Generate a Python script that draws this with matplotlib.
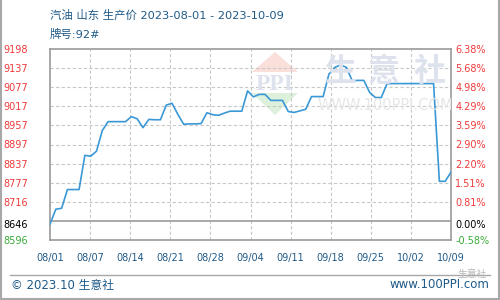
import numpy as np
import matplotlib
matplotlib.use("Agg")
import matplotlib.pyplot as plt
from matplotlib.patches import Polygon
from matplotlib.lines import Line2D

plt.rcParams['font.family'] = ['DejaVu Sans', 'Noto Sans CJK SC']

# ===============================
# DATA
# ===============================
# daily price, 08/01 .. 10/09 (day 0 .. 69)
price = [8646, 8693, 8696, 8755, 8755, 8755, 8863, 8860, 8876, 8941,
         8969, 8969, 8969, 8969, 8985, 8978, 8950, 8976, 8975, 8975,
         9021, 9027, 8992, 8961, 8962, 8962, 8963, 8997, 8991, 8989,
         8996, 9002, 9002, 9002, 9066, 9047, 9055, 9055, 9036, 9036,
         9036, 9001, 8998, 9003, 9008, 9048, 9048, 9048, 9119, 9140,
         9148, 9140, 9098, 9099, 9099, 9061, 9045, 9045, 9089, 9089,
         9089, 9089, 9089, 9089, 9089, 9089, 9089, 8781, 8781, 8810]
x_labels = ['08/01', '08/07', '08/14', '08/21', '08/28', '09/04',
            '09/11', '09/18', '09/25', '10/02', '10/09']
y_labels_left = ['8596', '8646', '8716', '8777', '8837', '8897',
                 '8957', '9017', '9077', '9137', '9198']
y_labels_right = ['-0.58%', '0.00%', '0.81%', '1.51%', '2.20%', '2.90%',
                  '3.59%', '4.29%', '4.98%', '5.68%', '6.38%']
y_min, y_base, y_max = 8596, 8646, 9198

title = '汽油 山东 生产价 2023-08-01 - 2023-10-09'
subtitle = '牌号:92#'

# ===============================
# FIGURE
# ===============================
W, H = 500, 300
fig = plt.figure(figsize=(5, 3), dpi=100)
fig.patch.set_facecolor('white')

def fx(px):
    return px / W

def fy(py):
    return 1 - py / H

ax = fig.add_axes([fx(50), fy(240), 401 / W, 191 / H])
days = np.arange(len(price))
ax.set_xlim(0, len(price) - 1)
ax.set_ylim(y_min, y_max)

step = (y_max - y_min) / 10
y_ticks = [y_min, y_base] + [y_min + k * step for k in range(2, 11)]
x_ticks = np.linspace(0, len(price) - 1, len(x_labels))

# watermark
wm = '#dde2ed'
fig.patches.append(Polygon([[fx(252), fy(72)], [fx(275), fy(52)], [fx(298), fy(72)]],
                           closed=True, transform=fig.transFigure, fc='#fadfdb', ec='none', zorder=0))
fig.patches.append(Polygon([[fx(252), fy(93)], [fx(298), fy(93)], [fx(275), fy(115)]],
                           closed=True, transform=fig.transFigure, fc='#dcf0dc', ec='none', zorder=0))
fig.text(fx(275), fy(84), 'PPI', color=wm, fontsize=17, fontweight='bold',
         ha='center', va='center', family='Liberation Serif')
for cx, ch in zip([340, 384, 430], '生意社'):
    fig.text(fx(cx), fy(72), ch, color=wm, fontsize=23, fontweight='bold',
             ha='center', va='center', family='Noto Sans CJK SC')
fig.text(fx(385), fy(106), 'WWW.100PPI.COM', color='#e6e6e6', fontsize=10.5,
         ha='center', va='center')

ax.set_facecolor('none')
ax.set_zorder(2)

# grid
grid_kw = dict(color='#c8c8c8', lw=0.8, linestyle=(0, (3, 2)), zorder=1)
for yv in y_ticks[2:-1]:
    ax.axhline(yv, **grid_kw)
for xv in x_ticks[1:-1]:
    ax.axvline(xv, **grid_kw)
ax.axhline(y_min + step * 0.97, color='#9a9a9a', lw=1.2, zorder=1)

ax.plot(days, price, color='#3a98d6', lw=1.2, zorder=3)

for s in ax.spines.values():
    s.set_color('#9a9a9a')
    s.set_linewidth(1.2)

label_red, label_green = '#ee3a3a', '#3aaa3a'
colors = [label_green, 'black'] + [label_red] * 9

ax.set_yticks(y_ticks)
ax.set_yticklabels(y_labels_left, fontsize=7)
for t, c in zip(ax.get_yticklabels(), colors):
    t.set_color(c)
ax.tick_params(axis='y', length=0, pad=16)

ax.set_xticks(x_ticks)
ax.set_xticklabels(x_labels, fontsize=7, color='#1f5a88')
ax.tick_params(axis='x', length=0, pad=9)

ax2 = ax.twinx()
ax2.set_ylim(y_min, y_max)
ax2.set_yticks(y_ticks)
ax2.set_yticklabels(y_labels_right, fontsize=7)
for t, c in zip(ax2.get_yticklabels(), colors):
    t.set_color(c)
ax2.tick_params(axis='y', length=0, pad=3)
for s in ax2.spines.values():
    s.set_visible(False)

# titles and footer
blue = '#1f5a88'
fig.text(fx(50), fy(15.5), title, color=blue, fontsize=8.2, ha='left', va='center')
fig.text(fx(50), fy(34), subtitle, color=blue, fontsize=8.2, ha='left', va='center')
fig.text(fx(11), fy(285), '© 2023.10 生意社', color=blue, fontsize=8.5, ha='left', va='center')
fig.text(fx(489), fy(285), 'www.100PPI.com', color=blue, fontsize=8.5, ha='right', va='center')
fig.text(fx(472), fy(274), '生意社', color='#b8b8b8', fontsize=7, ha='center', va='center')

# frame lines
border = '#a8a8a8'
fig.lines.append(Line2D([fx(10), fx(490)], [fy(275), fy(275)], transform=fig.transFigure,
                        color=border, lw=1.0))
fig.lines.append(Line2D([fx(0.7), fx(0.7)], [0, 1], transform=fig.transFigure, color=border, lw=1.5))
fig.lines.append(Line2D([fx(499.3), fx(499.3)], [0, 1], transform=fig.transFigure, color=border, lw=1.5))
fig.lines.append(Line2D([0, 1], [fy(299.3), fy(299.3)], transform=fig.transFigure, color=border, lw=1.5))

fig.savefig('out.png', dpi=100)
